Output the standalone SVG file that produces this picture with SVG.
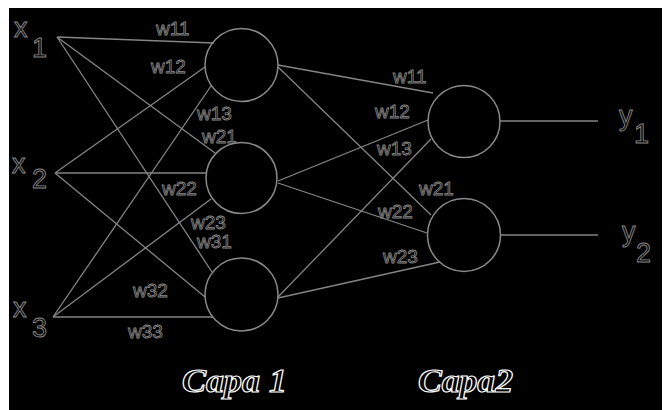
<svg xmlns="http://www.w3.org/2000/svg" width="667" height="410" viewBox="0 0 667 410">
<style>
.edge{stroke:#858585;stroke-width:1.3;fill:none}
.node{stroke:#8a8a8a;stroke-width:1.5;fill:none}
.w{font-family:"Liberation Sans",Arial,sans-serif;font-size:19px;fill:none;stroke:#8a8a8a;stroke-width:0.8}
.io{font-family:"Liberation Sans",Arial,sans-serif;font-size:27px;fill:none;stroke:#8a8a8a;stroke-width:0.9}
.cap{font-family:"Liberation Serif","Times New Roman",serif;font-style:italic;font-weight:bold;font-size:34px;fill:#000;stroke:#fff;stroke-width:1.2}
</style>
<rect x="0" y="0" width="667" height="410" fill="#fff"/>
<rect x="9" y="8" width="653" height="402" fill="#000"/>
<g id="connectors">
<line class="edge" x1="57" y1="37" x2="214" y2="43"/>
<line class="edge" x1="57" y1="37" x2="215" y2="153"/>
<line class="edge" x1="57" y1="37" x2="212" y2="272"/>
<line class="edge" x1="55" y1="173" x2="205" y2="67"/>
<line class="edge" x1="55" y1="173" x2="206" y2="173"/>
<line class="edge" x1="55" y1="173" x2="205" y2="297"/>
<line class="edge" x1="53" y1="317" x2="211" y2="86"/>
<line class="edge" x1="53" y1="317" x2="211" y2="199"/>
<line class="edge" x1="53" y1="317" x2="213" y2="317"/>
<line class="edge" x1="278" y1="65" x2="433" y2="93"/>
<line class="edge" x1="278" y1="67" x2="431" y2="215"/>
<line class="edge" x1="278" y1="181" x2="428" y2="120"/>
<line class="edge" x1="278" y1="183" x2="427" y2="233"/>
<line class="edge" x1="278" y1="297" x2="431" y2="139"/>
<line class="edge" x1="278" y1="298" x2="440" y2="262"/>
<line class="edge" x1="500" y1="121" x2="598" y2="121"/>
<line class="edge" x1="501" y1="235" x2="598" y2="235"/>
<text class="w" x="156" y="35">w11</text>
<text class="w" x="151" y="73">w12</text>
<text class="w" x="197" y="120">w13</text>
<text class="w" x="202" y="143">w21</text>
<text class="w" x="162" y="195">w22</text>
<text class="w" x="191" y="229">w23</text>
<text class="w" x="197" y="248">w31</text>
<text class="w" x="133" y="297">w32</text>
<text class="w" x="128" y="338">w33</text>
<text class="w" x="393" y="83">w11</text>
<text class="w" x="375" y="118">w12</text>
<text class="w" x="377" y="155">w13</text>
<text class="w" x="419" y="195">w21</text>
<text class="w" x="378" y="218">w22</text>
<text class="w" x="383" y="263">w23</text>
</g>
<g id="x1"><text class="io" x="14" y="37">x</text><text class="io" x="32" y="57">1</text></g>
<g id="x2"><text class="io" x="12" y="173">x</text><text class="io" x="32" y="188">2</text></g>
<g id="x3"><text class="io" x="13" y="317">x</text><text class="io" x="32" y="337">3</text></g>
<g id="h1"><circle class="node" cx="241.5" cy="65" r="36.5"/></g>
<g id="h2"><circle class="node" cx="241.5" cy="178" r="35.5"/></g>
<g id="h3"><circle class="node" cx="241.5" cy="294.5" r="36.5"/></g>
<g id="o1"><circle class="node" cx="464" cy="121.5" r="36"/></g>
<g id="o2"><circle class="node" cx="464" cy="235" r="36.5"/></g>
<g id="y1"><text class="io" x="619" y="125">y</text><text class="io" x="634" y="143">1</text></g>
<g id="y2"><text class="io" x="622" y="241">y</text><text class="io" x="636" y="262">2</text></g>
<g id="captions">
<text class="cap" x="182" y="392" textLength="105" lengthAdjust="spacingAndGlyphs">Capa 1</text>
<text class="cap" x="418" y="392" textLength="95" lengthAdjust="spacingAndGlyphs">Capa2</text>
</g>
</svg>
